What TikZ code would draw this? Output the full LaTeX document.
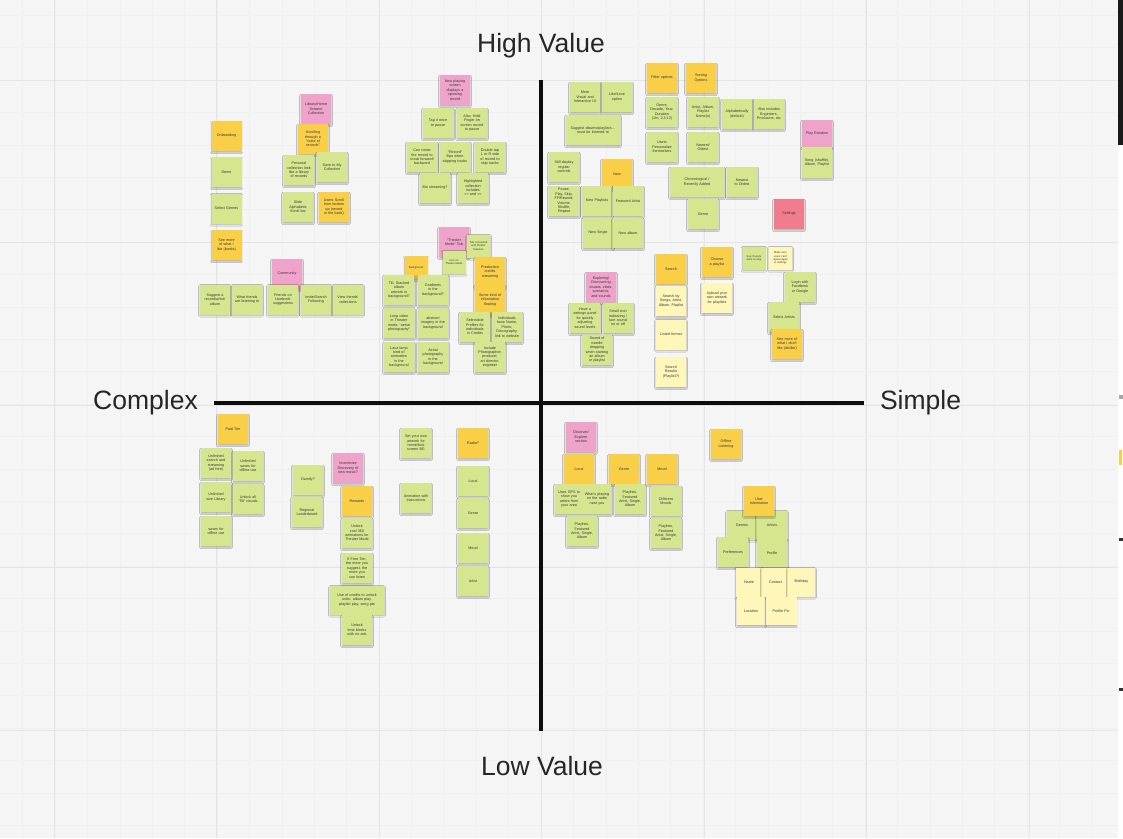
\documentclass[tikz,border=0pt]{standalone}
\usepackage{fontspec}
\setmainfont{Liberation Sans}
\usetikzlibrary{shadows.blur}
\definecolor{bgc}{HTML}{F5F5F5}
\definecolor{minorc}{HTML}{F0F0F0}
\definecolor{majorc}{HTML}{E4E4E4}
\definecolor{noteg}{HTML}{D6E68F}
\definecolor{notey}{HTML}{F9CF48}
\definecolor{notep}{HTML}{EFA2CA}
\definecolor{notel}{HTML}{FFF6B9}
\definecolor{noter}{HTML}{F27C8E}
\newcommand\notefont{\fontsize{3.7}{4.4}\selectfont\hyphenpenalty=10000 \exhyphenpenalty=10000 }
\newcommand\smallnotefont{\fontsize{2.7}{3.2}\selectfont\hyphenpenalty=10000 }
\newcommand\axisfont{\fontsize{26.5}{30}\selectfont}
\tikzset{
  note/.style={rectangle, minimum width=30pt, minimum height=30pt, inner sep=1pt,
    text width=25pt, align=center, font=\notefont, text=black!78,
    blur shadow={shadow xshift=0pt, shadow yshift=-1.4pt, shadow blur radius=1.3pt, shadow opacity=28}},
  gn/.style={note, fill=noteg},
  yn/.style={note, fill=notey},
  pn/.style={note, fill=notep},
  ln/.style={note, fill=notel},
  rn/.style={note, fill=noter},
  wide/.style={minimum width=54pt, text width=50pt},
  smallnote/.style={minimum width=23pt, minimum height=23pt, text width=20pt, font=\smallnotefont},
  axisline/.style={line width=3.6pt, black!95},
  lbl/.style={font=\axisfont, text=black!85, inner sep=0pt},
  minorline/.style={minorc, line width=0.5pt},
  majorline/.style={majorc, line width=0.8pt}
}
\begin{document}
\begin{tikzpicture}[x=1pt,y=-1pt]
\useasboundingbox (0,0) rectangle (1123,838);
\fill[bgc] (0,0) rectangle (1123,838);
% grid
\foreach \k in {0,...,34} \draw[minorline] ({22.6+32.4*\k},0) -- ++(0,838);
\foreach \k in {0,...,25} \draw[minorline] (0,{15.2+32.4*\k}) -- ++(1123,0);
\foreach \x in {54,216.5,379,541.5,704,866.5,1029} \draw[majorline] (\x,0) -- ++(0,838);
\foreach \y in {80,242.5,405,567.5,730} \draw[majorline] (0,\y) -- ++(1123,0);
% right edge
\fill[black!90] (1118,0) rectangle (1123,145);
\fill[white] (1118,145) rectangle (1123,838);
\fill[black!35] (1119,395) rectangle (1123,399);
\fill[notey] (1119,450) rectangle (1122,465);
\fill[black!80] (1119,538) rectangle (1123,541);
\fill[black!80] (1119,688) rectangle (1123,691);
% axes
\draw[axisline] (541,80) -- (541,731);
\draw[axisline] (214,403) -- (864,403);
\node[lbl] (high) at (541,46) {High Value};
\node[lbl] (low) at (542,766) {Low Value};
\node[lbl] (complex) at (145.5,403) {Complex};
\node[lbl] (simple) at (920.5,403) {Simple};

% ---------- top left ----------
\node[yn] (onb) at (226.5,136) {Onboarding};
\node[gn] (demo) at (226.5,172) {Demo};
\node[gn] (selg) at (226.5,208.5) {Select Genres};
\node[yn] (seemore) at (226.5,245) {See more of what I like (books)};
\node[pn] (lib) at (316,109) {Library/Home Screen/ Collection};
\node[yn] (scroll) at (313,139) {Scrolling through a “crate of records”};
\node[gn] (pers) at (299,170) {Personal collection look like a library of records};
\node[gn] (savecol) at (332,167) {Save to My Collection};
\node[gn] (slide) at (298,207) {Slide Alphabetic Scroll bar};
\node[yn] (uscroll) at (334,207) {Users Scroll from bottom up (record in the back)};
\node[pn] (comm) at (287,274) {Community};
\node[gn] (sugg) at (215,299.5) {Suggest a record/artist/ album};
\node[gn] (whatfr) at (247,299.5) {What friends are listening to};
\node[gn] (fb) at (283,299.5) {Friends on facebook suggestions};
\node[gn] (invite) at (316,299.5) {Invite/Search Following};
\node[gn] (viewfr) at (348,299.5) {View friends’ collections};

% ---------- top middle ----------
\node[pn] (nowpl) at (455,90) {Now playing screen displays a spinning record};
\node[gn] (tap) at (438,123) {Tap it once to pause};
\node[gn] (hold) at (472,123) {Also, Hold Finger on screen record to pause};
\node[gn] (rotate) at (422,157) {Can rotate the record to scrub forward/ backward};
\node[gn] (flips) at (455,157) {“Record” flips when skipping tracks};
\node[gn] (dtap) at (490,157) {Double tap L or R side of record to skip tracks};
\node[gn] (bio) at (435,188) {Bio streaming?};
\node[gn] (hilite) at (473,188) {Highlighted collection includes >{}> and <{}<};

\node[pn] (theater) at (454,242) {“Theater Mode” Tab};
\node[gn, smallnote] (tabconn) at (478.5,246) {Tab connected with theater features};
\node[gn, smallnote] (icon) at (454,262) {Icon on Theater Mode};
\node[yn, smallnote] (bground) at (416,267.5) {Background};
\node[gn] (tilt) at (399,290) {Tilt, Stacked album artwork in background?};
\node[gn] (grad) at (433,290) {Gradients in the background?};
\node[gn] (loop) at (399,323) {Loop video in Theater mode, “aerial photography”};
\node[gn] (abstr) at (433,323) {abstract imagery in the background};
\node[gn] (lava) at (399,357) {Lava lamp kind of animation in the background};
\node[gn] (aerial) at (433,357) {Aerial photography in the background};
\node[yn] (prod) at (490,272) {Production credits streaming};
\node[yn] (info) at (490,300) {Some kind of information floating};
\node[gn] (selprof) at (475,327) {Selectable Profiles for individuals in Credits};
\node[gn] (indiv) at (507,327) {Individuals have Name, Photo, Discography, link to website};
\node[gn] (incl) at (490,357) {Include Photographer, producer, art director, engineer};

% ---------- top right ----------
\node[yn] (filter) at (662,78) {Filter options};
\node[yn] (sorting) at (701,78) {Sorting Options};
\node[gn] (visual) at (585,97) {More Visual and Interactive UI};
\node[gn] (like) at (617,97) {Like/Love option};
\node[gn, wide] (suggal) at (593,130) {Suggest albums/playlists… must be listened to};
\node[gn] (genredec) at (662,112) {Genre, Decade, Year, Duration (1hr, 2,3,12)};
\node[gn] (artalb) at (703,112) {Artist, Album, Playlist Name(s)};
\node[gn] (alpha) at (737,114) {Alphabetically (default)};
\node[gn] (alsoinc) at (769,114) {Also includes Engineers, Producers, etc};
\node[gn] (userspers) at (662,147) {Users Personalize themselves};
\node[gn] (newold) at (703,147) {Newest/ Oldest};
\node[gn, wide] (chrono) at (697,182) {Chronological / Recently Added};
\node[gn] (newtoold) at (742,182) {Newest to Oldest};
\node[gn] (genre1) at (703,214) {Genre};
\node[rn] (settings) at (789,214) {Settings};
\node[pn, minimum height=27pt] (playrand) at (817,133.5) {Play Random};
\node[gn, minimum height=31pt] (shuffle) at (817,162.5) {Song (shuffle), Album, Playlist};
\node[gn] (still) at (564,167) {Still display regular controls};
\node[yn] (new) at (617,174) {New};
\node[gn] (pause) at (564,201) {Pause, Play, Skip, FF/Rewind, Volume, Shuffle, Repeat};
\node[gn] (newpl) at (597,201) {New Playlists};
\node[gn] (featart) at (628,201) {Featured Artist};
\node[gn] (newsingle) at (598,233) {New Single};
\node[gn] (newalbum) at (628,233) {New album};

\node[yn] (search) at (671,269) {Search};
\node[ln] (searchby) at (671,301) {Search by Songs, Artist, Album, Playlist};
\node[ln] (listed) at (671,334.5) {Listed format};
\node[ln] (results) at (671,372) {Search Results (Playlist?)};
\node[pn] (explore) at (601,287) {Exploring/ Discovering visuals, vibes, scenarios, and sounds};
\node[gn] (panel) at (585,318) {Have a settings panel for quickly adjusting sound levels};
\node[gn] (smallicon) at (618,318) {Small icon indicating / turn sound on or off};
\node[gn] (needle) at (597,350) {Sound of needle dropping when starting an album or playlist};
\node[yn] (choose) at (717,262) {Choose a playlist};
\node[ln] (upload) at (717,298) {Upload your own artwork for playlists};
\node[gn, smallnote] (skip) at (754,258) {See if users want to skip};
\node[ln, smallnote] (makesure) at (780.5,258) {Make sure users can’t repeat again in settings};
\node[gn] (login) at (800,287) {Login with Facebook or Google};
\node[gn] (selart) at (784,317) {Select Artists};
\node[yn] (dislike) at (787,344) {See more of what I don’t like (dislike)};

% ---------- bottom left ----------
\node[yn] (paid) at (233,429) {Paid Tier};
\node[gn] (unlsearch) at (216,463) {Unlimited search and streaming (ad free)};
\node[gn] (unlsaves) at (248,466) {Unlimited saves for offline use};
\node[gn] (unlsize) at (216,497) {Unlimited size Library};
\node[gn] (unltilt) at (248,499) {Unlock all ‘Tilt’ visuals};
\node[gn] (saves) at (216,531) {saves for offline use};
\node[gn] (gamify) at (308,480) {Gamify?};
\node[gn] (leader) at (307,512) {Regional Leaderboard};
\node[pn] (incent) at (348,468) {Incentivize Discovery of new music?};
\node[yn] (rewards) at (357,501) {Rewards};
\node[gn] (cool) at (357,533) {Unlock cool 360 animations for Theater Mode};
\node[gn] (freetier) at (357,568) {If Free Tier, the more you suggest, the more you can listen};
\node[gn, wide, minimum height=29pt] (credits) at (357,600) {Use of credits to unlock units: album play, playlist play, song pla};
\node[gn] (timeblk) at (357,630) {Unlock time blocks with no ads};
\node[gn] (setown) at (416,443) {Set your own artwork for home/lock screen BG};
\node[gn] (anim) at (416,498) {Animation with Instructions};
\node[yn] (radio) at (473,443) {Radio?};
\node[gn] (rlocal) at (473,481) {Local};
\node[gn] (rgenre) at (473,513) {Genre};
\node[gn] (rmood) at (473,548) {Mood};
\node[gn] (rartist) at (473,581) {Artist};

% ---------- bottom right ----------
\node[pn] (discover) at (581,437) {Discover/ Explore section};
\node[yn] (dlocal) at (579,469) {Local};
\node[yn] (dgenre) at (624,469) {Genre};
\node[yn] (dmood) at (662,469) {Mood};
\node[gn, minimum width=56pt, text width=53pt] (gps) at (583,499) {\parbox[c]{25pt}{\centering Uses GPS to show you artists from your area}\hfill\parbox[c]{25pt}{\centering What’s playing on the radio near you}};
\node[gn] (plg) at (630,499) {Playlists, Featured Artist, Single, Album};
\node[gn] (moods) at (666,501) {Different Moods};
\node[gn] (pll) at (582,531) {Playlists, Featured Artist, Single, Album};
\node[gn] (plm) at (666,533) {Playlists, Featured Artist, Single, Album};
\node[yn] (offline) at (726,444) {Offline Listening};
\node[gn, minimum height=29pt] (genres) at (742,525) {Genres};
\node[gn, minimum height=29pt] (artists) at (772,525) {Artists};
\node[gn] (prefs) at (733,552) {Preferences};
\node[gn, minimum height=28pt] (profile) at (772,553) {Profile};
\node[ln, minimum width=27pt, minimum height=29pt] (name) at (749,582) {Name};
\node[ln, minimum width=27pt, minimum height=29pt] (contact) at (775.5,582) {Contact};
\node[ln, minimum width=27pt, minimum height=29pt] (birthday) at (801.5,582) {Birthday};
\node[ln, minimum width=28pt, minimum height=28pt] (location) at (751,611) {Location};
\node[ln, minimum width=31pt, minimum height=28pt] (profpic) at (781,611) {Profile Pic};
\node[yn] (userinfo) at (759,501) {User Information};
\end{tikzpicture}
\end{document}
